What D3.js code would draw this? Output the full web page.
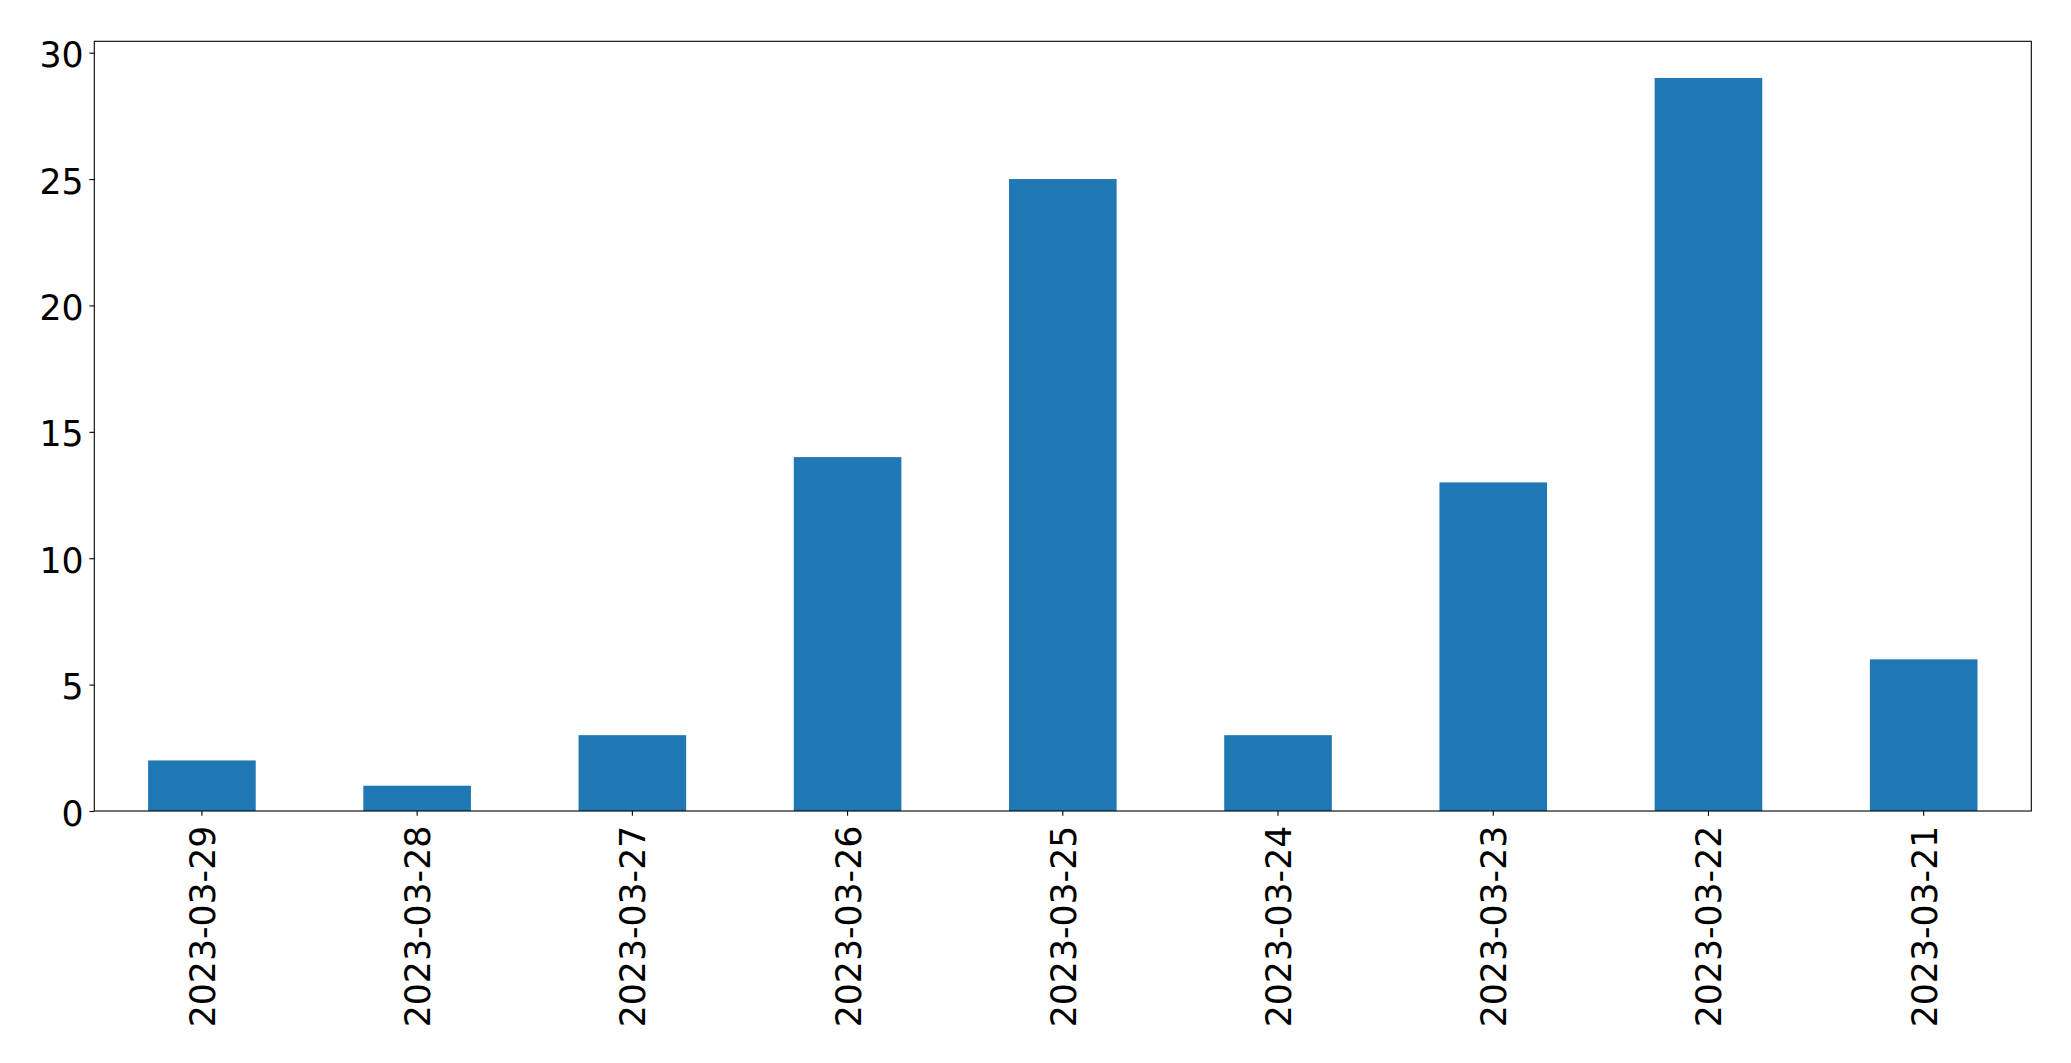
<!DOCTYPE html>
<html>
<head>
<meta charset="utf-8">
<script src="https://cdn.jsdelivr.net/npm/d3@7"></script>
<style>
  html, body { margin: 0; padding: 0; background: #fff; }
  svg { display: block; }
  .tick text { font-family: "DejaVu Sans", sans-serif; fill: #000; }
</style>
</head>
<body>
<script>
const categories = ["2023-03-29","2023-03-28","2023-03-27","2023-03-26","2023-03-25","2023-03-24","2023-03-23","2023-03-22","2023-03-21"];
const values = [2, 1, 3, 14, 25, 3, 13, 29, 6];
const yTicks = [0, 5, 10, 15, 20, 25, 30];

const W = 2071, H = 1063;
const margin = { left: 94.3, top: 41.3, right: W - 2031.3, bottom: H - 811 };
const iw = W - margin.left - margin.right;
const ih = H - margin.top - margin.bottom;
const fs = 34.7;
const tickLen = 4.86, tickPad = 4.86;

const svg = d3.select("body").append("svg").attr("width", W).attr("height", H);
const g = svg.append("g").attr("transform", `translate(${margin.left},${margin.top})`);

const x = d3.scaleBand().domain(categories).range([0, iw]).paddingInner(0.5).paddingOuter(0.25);
const y = d3.scaleLinear().domain([0, d3.max(values) * 1.05]).range([ih, 0]);

g.selectAll("rect.bar").data(values).join("rect")
  .attr("class", "bar")
  .attr("x", (d, i) => x(categories[i]))
  .attr("width", x.bandwidth())
  .attr("y", d => y(d))
  .attr("height", d => y(0) - y(d))
  .attr("fill", "#1f77b4");

const ya = g.append("g").call(d3.axisLeft(y).tickValues(yTicks).tickSize(tickLen).tickPadding(tickPad).tickFormat(d3.format("d")));
ya.select(".domain").remove();
ya.selectAll(".tick line").attr("stroke", "#000").attr("stroke-width", 1.1);
ya.selectAll(".tick text").attr("font-size", fs).attr("dy", "0").attr("y", 0).attr("transform", "translate(-1,14)");

const xa = g.append("g").attr("transform", `translate(0,${ih})`)
  .call(d3.axisBottom(x).tickSize(tickLen).tickPadding(tickPad));
xa.select(".domain").remove();
xa.selectAll(".tick line").attr("stroke", "#000").attr("stroke-width", 1.1);
xa.selectAll(".tick text")
  .attr("font-size", fs)
  .attr("text-anchor", "end")
  .attr("y", 0).attr("x", 0).attr("dy", null)
  .attr("transform", `translate(13,${tickLen + tickPad + 5}) rotate(-90)`);

g.append("rect").attr("x", 0).attr("y", 0).attr("width", iw).attr("height", ih)
  .attr("fill", "none").attr("stroke", "#000").attr("stroke-width", 1.1);
</script>
</body>
</html>
